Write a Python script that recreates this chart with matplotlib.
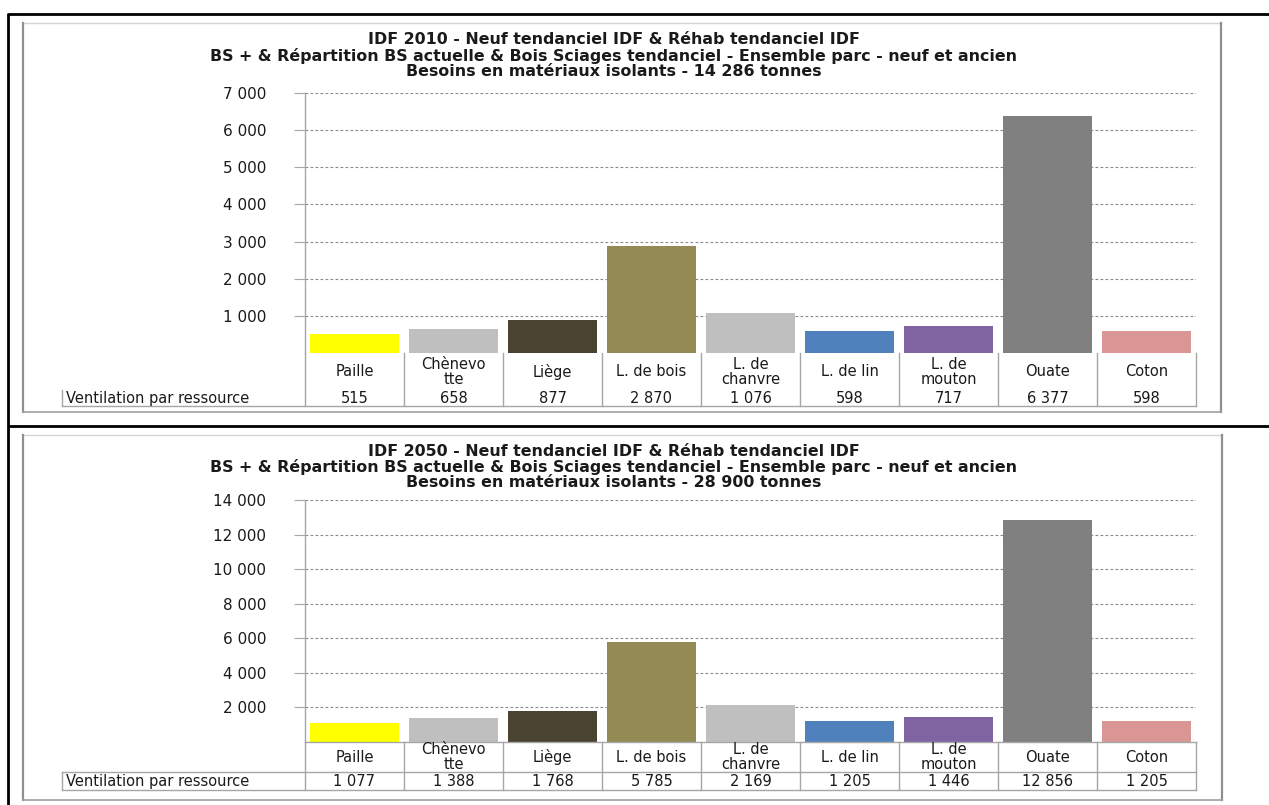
import matplotlib
matplotlib.use("Agg")
import matplotlib.pyplot as plt
from matplotlib.lines import Line2D
from matplotlib.ticker import FuncFormatter

W, H = 1269, 805

categories = ["Paille", "Chènevo\ntte", "Liège", "L. de bois", "L. de\nchanvre",
              "L. de lin", "L. de\nmouton", "Ouate", "Coton"]
colors = ["#FFFF00", "#BFBFBF", "#4A4330", "#948A54", "#BFBFBF",
          "#4F81BD", "#8064A2", "#808080", "#D99694"]
values_2010 = [515, 658, 877, 2870, 1076, 598, 717, 6377, 598]
values_2050 = [1077, 1388, 1768, 5785, 2169, 1205, 1446, 12856, 1205]
row_label = "Ventilation par ressource"

titles_2010 = ["IDF 2010 - Neuf tendanciel IDF & Réhab tendanciel IDF",
               "BS + & Répartition BS actuelle & Bois Sciages tendanciel - Ensemble parc - neuf et ancien",
               "Besoins en matériaux isolants - 14 286 tonnes"]
titles_2050 = ["IDF 2050 - Neuf tendanciel IDF & Réhab tendanciel IDF",
               "BS + & Répartition BS actuelle & Bois Sciages tendanciel - Ensemble parc - neuf et ancien",
               "Besoins en matériaux isolants - 28 900 tonnes"]
yticks_2010 = [1000, 2000, 3000, 4000, 5000, 6000, 7000]
yticks_2050 = [2000, 4000, 6000, 8000, 10000, 12000, 14000]

TXT = "#1a1a1a"
GRID = "#8a8a8a"
LINE = "#a6a6a6"
FS = 10.5


def thousands(v):
    return f"{int(round(v)):,}".replace(",", " ")


def px_axes(fig, x0, y0, x1, y1, **kw):
    return fig.add_axes([x0 / W, 1 - y1 / H, (x1 - x0) / W, (y1 - y0) / H], **kw)


fig = plt.figure(figsize=(W / 100, H / 100), dpi=100)
bg = px_axes(fig, 0, 0, W, H)
bg.set_xlim(0, W)
bg.set_ylim(H, 0)
bg.axis("off")

# page frame (black) and chart frames (grey)
for seg in [((8, 1269), (14, 14)), ((8, 1269), (426, 426)), ((8, 8), (13, 805))]:
    bg.add_line(Line2D(*seg, color="black", lw=2.0, solid_capstyle="butt"))


def chart_frame(x0, y0, x1, y1):
    bg.add_line(Line2D([x0, x1], [y0, y0], color="#d4d4d4", lw=1.0))
    bg.add_line(Line2D([x0, x0], [y0, y1], color="#8f8f8f", lw=1.6))
    bg.add_line(Line2D([x1, x1], [y0, y1], color="#8f8f8f", lw=1.6))
    bg.add_line(Line2D([x0, x1], [y1, y1], color="#a0a0a0", lw=1.2))


chart_frame(23, 23, 1221, 412)
chart_frame(23, 435, 1222, 800)

XL, XR = 305, 1196
NCOL = len(categories)
colw = (XR - XL) / NCOL
LABEL_X = 62
xleft = -0.5 - (XL - LABEL_X) / colw


def draw_chart(values, titles, yticks, ymax, top, base, title_y, row1, row2, full_grid):
    # bar plot area
    ax = px_axes(fig, XL, top, XR, base)
    x = list(range(NCOL))
    ax.bar(x, values, width=0.89, color=colors, zorder=3)
    ax.set_xlim(-0.5, NCOL - 0.5)
    ax.set_ylim(0, ymax)
    ax.set_yticks(yticks)
    ax.yaxis.set_major_formatter(FuncFormatter(lambda v, p: thousands(v)))
    ax.tick_params(axis="y", length=8, width=0.8, color=LINE, pad=20,
                   labelsize=11, labelcolor=TXT)
    ax.set_xticks([])
    ax.grid(axis="y", color=GRID, linestyle=(0, (2.5, 2)), lw=0.8, zorder=0)
    for s in ["top", "right", "bottom"]:
        ax.spines[s].set_visible(False)
    ax.spines["left"].set_color(LINE)
    ax.spines["left"].set_linewidth(1.0)
    ax.patch.set_alpha(0)

    # data table under the bars
    r1 = row1 - base
    tbl = px_axes(fig, LABEL_X, base, XR, row2)
    tbl.set_xlim(xleft, NCOL - 0.5)
    hgt = row2 - base
    tbl.set_ylim(hgt, 0)
    tbl.axis("off")
    bounds = [-0.5 + i for i in range(NCOL + 1)]
    for b in bounds:
        tbl.add_line(Line2D([b, b], [0, hgt], color=LINE, lw=1.0, clip_on=False))
    tbl.add_line(Line2D([xleft, NCOL - 0.5], [hgt, hgt], color=LINE, lw=1.0, clip_on=False))
    tbl.add_line(Line2D([xleft, xleft], [r1, hgt], color=LINE, lw=1.0, clip_on=False))
    if full_grid:
        tbl.add_line(Line2D([-0.5, NCOL - 0.5], [0, 0], color=LINE, lw=1.0, clip_on=False))
        tbl.add_line(Line2D([xleft, NCOL - 0.5], [r1, r1], color=LINE, lw=1.0, clip_on=False))
    for i, (c, v) in enumerate(zip(categories, values)):
        tbl.text(i, r1 / 2, c, ha="center", va="center", fontsize=FS,
                 color=TXT, linespacing=1.0)
        tbl.text(i, (r1 + hgt) / 2 + 0.5, thousands(v), ha="center", va="center",
                 fontsize=FS, color=TXT)
    tbl.text(xleft + 0.04, (r1 + hgt) / 2 + 0.5, row_label, ha="left", va="center",
             fontsize=FS, color=TXT)

    for k, t in enumerate(titles):
        bg.text(614, title_y + 15.5 * k, t, ha="center", va="center",
                fontsize=11.4, fontweight="bold", family="DejaVu Sans", color=TXT)


draw_chart(values_2010, titles_2010, yticks_2010, 7000, 93, 353, 40, 390, 406, False)
draw_chart(values_2050, titles_2050, yticks_2050, 14000, 500, 742, 451, 772, 790, True)

fig.savefig("out.png", dpi=100, facecolor="white")
